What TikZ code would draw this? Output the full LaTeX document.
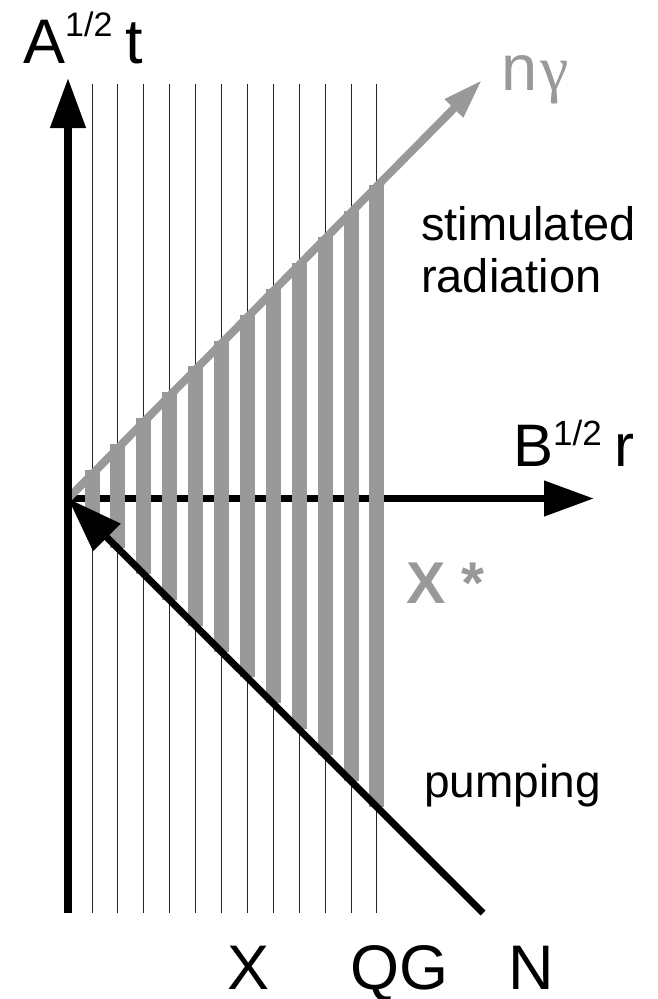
\documentclass[tikz,border=0pt]{standalone}
\usepackage{fontspec}
\setmainfont{Liberation Sans}
\newfontfamily\gfont{Liberation Serif}
\usetikzlibrary{arrows.meta}
\definecolor{lightgr}{RGB}{153,153,153}
\tikzset{
 thinline/.style={line width=1pt, black!85},
 axis/.style={line width=7.5pt, black, -{Triangle[length=50pt,width=34pt]}},
 barline/.style={line width=15pt, lightgr},
 ray/.style={line width=8pt, lightgr, -{Triangle[length=40pt,width=24pt]}},
 pump/.style={line width=7pt, black, -{Triangle[length=55pt,width=37pt]}},
 lab/.style={inner sep=0pt, anchor=base west},
}
\begin{document}
\begin{tikzpicture}[x=1pt,y=-1pt]
\useasboundingbox (0,0) rectangle (658,999);
\coordinate (O) at (68,498.5);
\coordinate (Vbot) at (68,913);
\coordinate (Vtop) at (68,78);
\coordinate (Hend) at (594,498.5);
\coordinate (Rtip) at (482,80);
\coordinate (Pstart) at (483,913);
% thin vertical lines
\foreach \k in {0,...,11} {
  \pgfmathsetmacro{\xx}{92+25.9*\k}
  \coordinate (L\k b) at (\xx,913);
  \coordinate (L\k t) at (\xx,84);
  \draw[thinline] (L\k b) -- (L\k t);
}
% horizontal axis
\draw[axis] (O) -- (Hend);
% gray bars
\foreach \k in {0,...,11} {
  \pgfmathsetmacro{\xx}{92+25.9*\k}
  \pgfmathsetmacro{\yt}{498-(\xx-68)-4}
  \pgfmathsetmacro{\yb}{498+(\xx-68)}
  \coordinate (B\k t) at (\xx,\yt);
  \coordinate (B\k b) at (\xx,\yb);
  \draw[barline] (B\k b) -- (B\k t);
}
% stimulated ray
\draw[ray] (O) -- (Rtip);
% pumping line
\draw[pump] (Pstart) -- (O);
% vertical axis
\draw[axis] (Vbot) -- (Vtop);
% labels
\node[lab] (At) at (23,63) {\fontsize{63}{63}\selectfont A\raisebox{27pt}{\fontsize{34}{34}\selectfont 1/2}\hspace{13pt}t};
\node[lab,text=lightgr] (ng) at (501,90) {\fontsize{65}{65}\selectfont n\hspace{3pt}{\gfont\fontsize{64}{64}\selectfont γ}};
\node[lab,align=left,font=\fontsize{47}{52}\selectfont] (stim) at (421,292) {stimulated\\radiation};
\node[lab] (Br) at (513,466) {\fontsize{60}{60}\selectfont B\raisebox{21pt}{\fontsize{35}{35}\selectfont 1/2}\hspace{13pt}r};
\node[lab,text=lightgr] (Xs) at (406,603) {\fontsize{59}{59}\selectfont\bfseries X *};
\node[lab] (pump) at (424,797) {\fontsize{46}{46}\selectfont pumping};
\node[lab] (X) at (227,989) {\fontsize{63}{63}\selectfont X};
\node[lab] (QG) at (350,989) {\fontsize{63}{63}\selectfont QG};
\node[lab] (N) at (508,989) {\fontsize{63}{63}\selectfont N};
\end{tikzpicture}
\end{document}
